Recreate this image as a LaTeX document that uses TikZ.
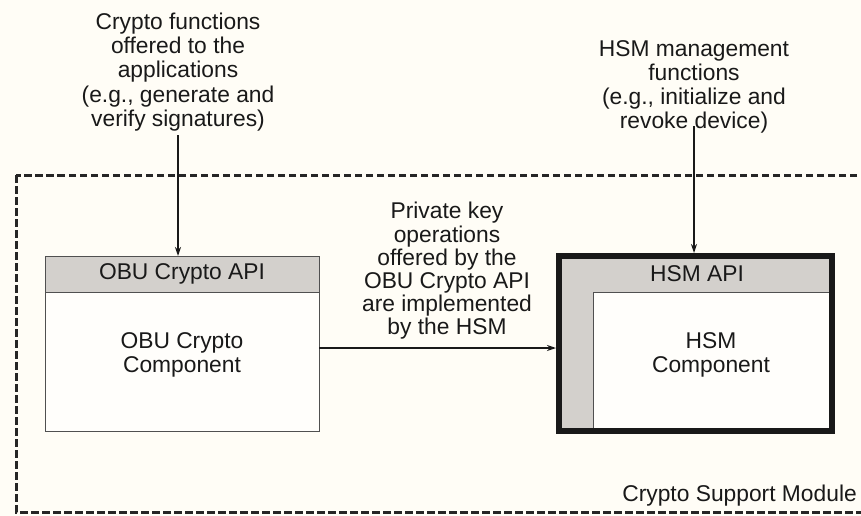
\documentclass[tikz,border=0pt]{standalone}
\usepackage{fontspec}
\setmainfont{Liberation Sans}
\usetikzlibrary{arrows.meta}
\definecolor{bg}{HTML}{FFFDF6}
\definecolor{apigrey}{HTML}{D3D0CC}
\definecolor{edge}{HTML}{505050}
\begin{document}
\begin{tikzpicture}[x=1pt,y=-1pt,
  txt/.style={align=center,font=\fontsize{22.8}{24.2}\selectfont,inner sep=0pt,text=black!90},
  midtxt/.style={align=center,font=\fontsize{22.8}{23.2}\selectfont,inner sep=0pt,text=black!90},
  conn/.style={-{Stealth[length=9pt,width=6pt]},line width=2pt,black!90},
  hconn/.style={-{Stealth[length=9pt,width=6pt]},line width=1.3pt,black!90}]
\useasboundingbox (0,0) rectangle (861,516);
\clip (0,0) rectangle (861,516);
\fill[bg] (0,0) rectangle (861,516);
% dashed module boundary
\draw[line width=3pt,black!85,dash pattern=on 7.5pt off 3.5pt] (16,175) rectangle (875,512);
\node[txt,anchor=base east] (csm) at (857,501) {Crypto Support Module};
% OBU box
\fill[white!60!bg] (45,256) rectangle (319,431);
\fill[apigrey] (45,256) rectangle (319,292);
\draw[edge,line width=1pt] (45,292) -- (319,292);
\draw[edge,line width=1pt] (45,256) rectangle (319,431);
\coordinate (obutop) at (178,256);
\coordinate (obuR) at (319,348);
\node[txt] (obuapi) at (182,274) {OBU Crypto API};
\node[txt] (obucomp) at (182,355) {OBU Crypto\\Component};
% HSM box
\fill[apigrey] (559,256) rectangle (832,431);
\fill[white!60!bg] (593,292) rectangle (829,428);
\draw[edge,line width=0.8pt] (829,292) -- (593,292) -- (593,428);
\draw[black!90,line width=6pt] (559,256) rectangle (832,431);
\coordinate (hsmtop) at (694,253);
\coordinate (hsmL) at (556,348);
\node[txt] (hsmapi) at (697,274) {HSM API};
\node[txt] (hsmcomp) at (711,355) {HSM\\Component};
% top labels
\node[txt] (crypto) at (178,72) {Crypto functions\\offered to the\\applications\\(e.g., generate and\\verify signatures)};
\node[txt] (mgmt) at (694,87) {HSM management\\functions\\(e.g., initialize and\\revoke device)};
\node[midtxt] (priv) at (447,271) {Private key\\operations\\offered by the\\OBU Crypto API\\are implemented\\by the HSM};
% connectors
\draw[conn] (178,135) -- (obutop);
\draw[conn] (694,126) -- (hsmtop);
\draw[hconn] (obuR) -- (hsmL);
\end{tikzpicture}
\end{document}
